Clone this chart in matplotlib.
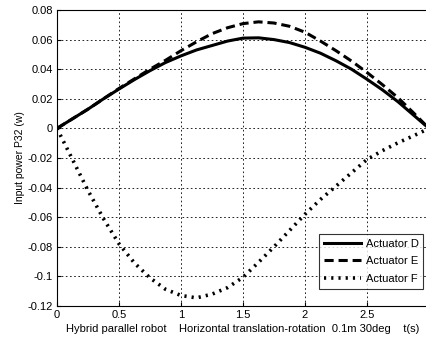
import matplotlib.pyplot as plt

plt.rcParams['font.family'] = ['Liberation Sans', 'DejaVu Sans']

# time axis (s)
t = [0, 0.125, 0.25, 0.375, 0.5, 0.625, 0.75, 0.875, 1.0, 1.125, 1.25, 1.375,
     1.5, 1.625, 1.75, 1.875, 2.0, 2.125, 2.25, 2.375, 2.5, 2.625, 2.75, 2.875, 3.0]

# input power P32 (w)
act_d = [0.0, 0.0065, 0.013, 0.020, 0.0266, 0.033, 0.039, 0.0445, 0.049, 0.053, 0.056, 0.059,
         0.061, 0.0612, 0.060, 0.058, 0.0548, 0.0508, 0.0457, 0.040, 0.0332, 0.026, 0.018, 0.009, 0.0]
act_e = [0.0, 0.0065, 0.013, 0.020, 0.027, 0.0335, 0.040, 0.046, 0.0525, 0.0585, 0.064, 0.068,
         0.0708, 0.072, 0.0712, 0.069, 0.065, 0.059, 0.0525, 0.0455, 0.0378, 0.0295, 0.0207, 0.0105, 0.0]
act_f = [0.0, -0.021, -0.042, -0.061, -0.078, -0.091, -0.101, -0.1087, -0.1129, -0.1145, -0.112, -0.1076,
         -0.1006, -0.0905, -0.080, -0.069, -0.058, -0.048, -0.039, -0.030, -0.021, -0.015, -0.0097, -0.005, 0.0]

fig = plt.figure(figsize=(4.27, 3.45), dpi=100)
ax = fig.add_axes([57 / 427, 1 - 306 / 345, 372 / 427, 296 / 345])

ax.plot(t, act_d, color='black', lw=2.2, ls='-', label='Actuator D')
ax.plot(t, act_e, color='black', lw=2.2, ls=(0, (3, 1.6)), label='Actuator E')
ax.plot(t, act_f, color='black', lw=2.6, ls=(0, (0.6, 1.4)), label='Actuator F')

ax.set_xlim(0, 3)
ax.set_ylim(-0.12, 0.08)
ax.set_xticks([0, 0.5, 1, 1.5, 2, 2.5, 3])
ax.set_xticklabels(['0', '0.5', '1', '1.5', '2', '2.5', '3'])
ax.set_yticks([-0.12, -0.1, -0.08, -0.06, -0.04, -0.02, 0, 0.02, 0.04, 0.06, 0.08])
ax.set_yticklabels(['-0.12', '-0.1', '-0.08', '-0.06', '-0.04', '-0.02', '0', '0.02', '0.04', '0.06', '0.08'])
ax.tick_params(direction='in', labelsize=8, length=3, pad=3)
ax.grid(True, color='black', ls=(0, (2, 3)), lw=0.6)

ax.set_xlabel('Hybrid parallel robot    Horizontal translation-rotation  0.1m 30deg    t(s)',
              fontsize=8, labelpad=3)
ax.set_ylabel('Input power P32 (w)', fontsize=7.5, labelpad=2)

leg = ax.legend(loc='lower right', fontsize=8, frameon=True, fancybox=False,
                edgecolor='black', handlelength=3.3, handletextpad=0.4, borderpad=0.45,
                labelspacing=0.7, borderaxespad=0, bbox_to_anchor=(0.985, 0.057))
leg.get_frame().set_linewidth(0.8)

fig.savefig('out.png', dpi=100)
